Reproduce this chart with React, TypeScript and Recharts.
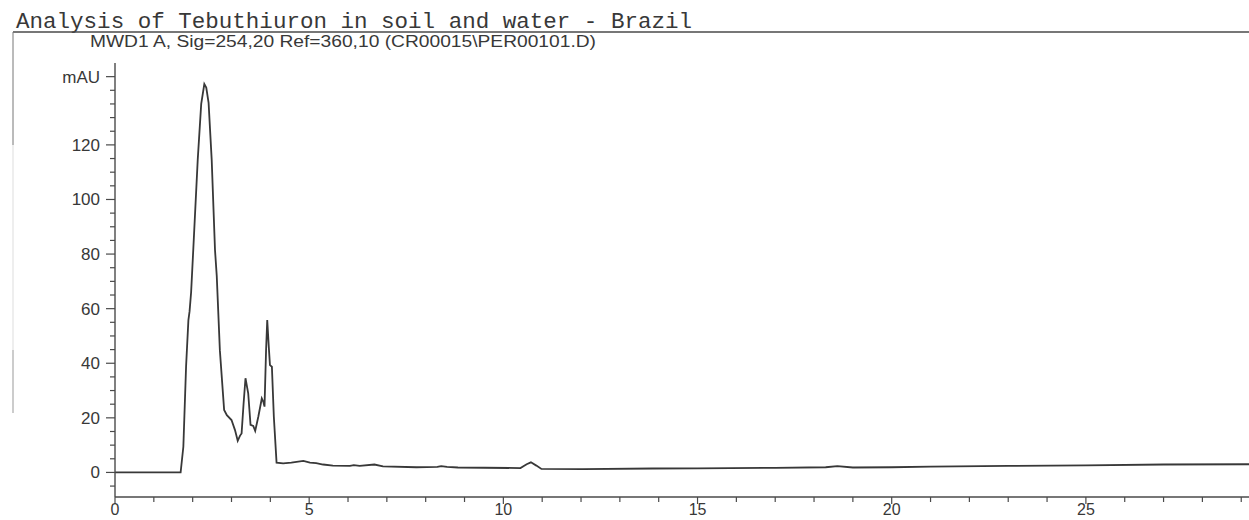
import React from "react";
import { LineChart, Line, XAxis, YAxis } from "recharts";

// retention time (min) and absorbance (mAU)
const TIME = [
  0, 1.69, 1.76, 1.83, 1.89, 1.92, 1.96, 2.015, 2.13, 2.22, 2.3, 2.35, 2.41, 2.49, 2.575,
  2.62, 2.7, 2.81, 2.88, 3.0, 3.09, 3.16, 3.22, 3.26, 3.31, 3.36, 3.43, 3.49, 3.56, 3.61,
  3.69, 3.78, 3.82, 3.85, 3.89, 3.92, 3.96, 3.99, 4.04, 4.09, 4.16, 4.33, 4.54, 4.85, 5.02,
  5.18, 5.36, 5.61, 6.05, 6.15, 6.3, 6.68, 6.9, 7.76, 8.3, 8.4, 8.55, 8.83, 10.44, 10.6,
  10.71, 10.85, 10.98, 12.05, 13.85, 15, 17, 18.3, 18.6, 19.0, 20, 21, 23, 25, 27, 29.2,
];
const MAU = [
  0, 0, 9.4, 38.7, 55.8, 59, 66, 81.5, 114.5, 135, 142.3, 141, 135.4, 114.5, 81.5,
  72, 44.8, 22.9, 21.0, 19.2, 15.5, 11.6, 13.5, 14.3, 25, 34.5, 29, 17.4, 17.0, 15.2,
  20.4, 27.1, 25.9, 24.1, 44.8, 55.8, 46, 39.3, 38.7, 20.4, 3.6, 3.3, 3.6, 4.2, 3.6,
  3.4, 2.9, 2.5, 2.4, 2.7, 2.4, 2.9, 2.2, 1.9, 2.0, 2.3, 2.0, 1.8, 1.6, 3.0,
  3.7, 2.5, 1.3, 1.2, 1.45, 1.5, 1.7, 1.9, 2.3, 1.8, 1.9, 2.1, 2.4, 2.6, 2.9, 3.0,
];

const X_TICKS = [0, 1, 2, 3, 4, 5, 6, 7, 8, 9, 10, 11, 12, 13, 14, 15, 16, 17, 18, 19, 20, 21, 22, 23, 24, 25, 26, 27, 28, 29];
const X_LABELS = [0, 5, 10, 15, 20, 25];
const Y_TICKS = [-5, 0, 5, 10, 15, 20, 25, 30, 35, 40, 45, 50, 55, 60, 65, 70, 75, 80, 85, 90, 95, 100, 105, 110, 115, 120, 125, 130, 135, 140, 145];
const Y_LABELS: Record<number, string> = { 0: "0", 20: "20", 40: "40", 60: "60", 80: "80", 100: "100", 120: "120", 145: "mAU" };

const TITLE = "Analysis of Tebuthiuron in soil and water - Brazil";
const SUBTITLE = "MWD1 A, Sig=254,20 Ref=360,10 (CR00015\\PER00101.D)";

const INK = "#383838";
const AXIS = "#4a4a4a";
const FONT = "'Liberation Sans', Arial, sans-serif";

const data = TIME.map((t, i) => ({ t, v: MAU[i] }));

function XTick(props: any) {
  const { x, y, payload } = props;
  const major = X_LABELS.includes(payload.value);
  return (
    <g>
      <line x1={x} y1={y} x2={x} y2={y + (major ? 7 : 5)} stroke={AXIS} strokeWidth={1.2} />
      {major && (
        <text x={x} y={y + 18} textAnchor="middle" fontFamily={FONT} fontSize={16} fill={INK}>
          {payload.value}
        </text>
      )}
    </g>
  );
}

function YTick(props: any) {
  const { x, y, payload } = props;
  const label = Y_LABELS[payload.value];
  return (
    <g>
      <line x1={x - (label ? 9 : 5)} y1={y} x2={x} y2={y} stroke={AXIS} strokeWidth={1.2} />
      {label && (
        <text x={x - 15} y={y} dy={6} textAnchor="end" fontFamily={FONT} fontSize={17} fill={INK}>
          {label}
        </text>
      )}
    </g>
  );
}

export default function App() {
  return (
    <div style={{ position: "absolute", left: 0, top: 0, width: 1249, height: 520, background: "#fff" }}>
      <LineChart width={1249} height={520} data={data} margin={{ top: 63, right: 0, bottom: 0, left: 0 }}>
        <XAxis
          dataKey="t"
          type="number"
          domain={[0, 29.2]}
          ticks={X_TICKS}
          interval={0}
          height={23}
          tickSize={0}
          tickMargin={0}
          tickLine={false}
          axisLine={{ stroke: AXIS, strokeWidth: 1.4 }}
          tick={<XTick />}
          allowDataOverflow
        />
        <YAxis
          type="number"
          domain={[-9, 150]}
          ticks={Y_TICKS}
          interval={0}
          width={115}
          tickSize={0}
          tickMargin={0}
          tickLine={false}
          axisLine={{ stroke: AXIS, strokeWidth: 1.4 }}
          tick={<YTick />}
          allowDataOverflow
        />
        <Line type="linear" dataKey="v" stroke={INK} strokeWidth={1.8} dot={false} isAnimationActive={false} />
      </LineChart>
      <svg width={1249} height={520} style={{ position: "absolute", left: 0, top: 0, pointerEvents: "none" }}>
        <text x={16} y={28} fontFamily="'Liberation Mono', 'Courier New', monospace" fontSize={22} fill={INK} textLength={676} lengthAdjust="spacingAndGlyphs">
          {TITLE}
        </text>
        <line x1={13} y1={32} x2={1249} y2={32} stroke={AXIS} strokeWidth={1.5} />
        <line x1={13} y1={32} x2={13} y2={145} stroke="#777" strokeWidth={1} />
        <line x1={13} y1={145} x2={13} y2={350} stroke="#ddd" strokeWidth={1} />
        <line x1={13} y1={350} x2={13} y2={413} stroke="#999" strokeWidth={1} />
        <text x={90} y={47} fontFamily={FONT} fontSize={16} fill={INK} textLength={506} lengthAdjust="spacingAndGlyphs">
          {SUBTITLE}
        </text>
      </svg>
    </div>
  );
}
